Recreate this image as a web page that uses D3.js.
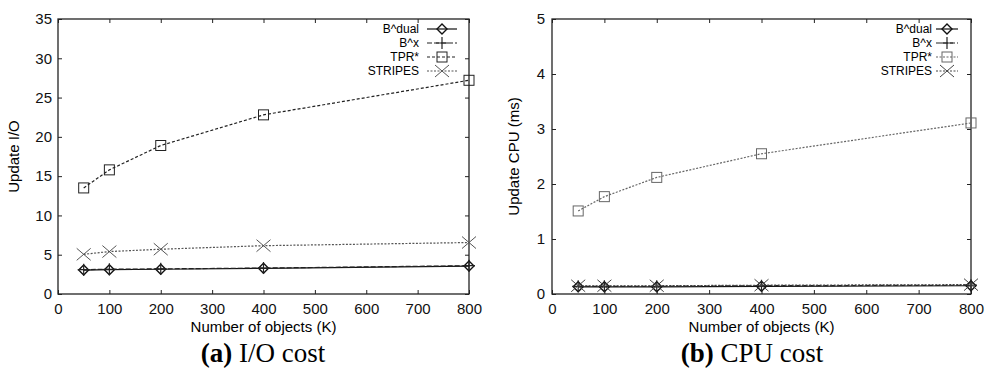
<!DOCTYPE html>
<html>
<head>
<meta charset="utf-8">
<script src="https://cdn.jsdelivr.net/npm/d3@7"></script>
<style>
  body { margin: 0; background: #fff; }
  svg { display: block; }
</style>
</head>
<body>
<svg id="chart" width="985" height="368"></svg>
<script>
// x values (thousands of objects)
const objects = [50, 100, 200, 400, 800];
const xTicks = [0, 100, 200, 300, 400, 500, 600, 700, 800];

// (a) update I/O
const ioDual = [3.05, 3.1, 3.15, 3.27, 3.56];
const ioX = [3.1, 3.15, 3.2, 3.3, 3.6];
const ioTpr = [13.5, 15.8, 18.9, 22.8, 27.2];
const ioStripes = [5.05, 5.4, 5.7, 6.15, 6.55];
const ioTicks = [0, 5, 10, 15, 20, 25, 30, 35];

// (b) update CPU (ms)
const cpuDual = [0.13, 0.13, 0.13, 0.14, 0.15];
const cpuX = [0.14, 0.14, 0.14, 0.15, 0.16];
const cpuTpr = [1.51, 1.77, 2.12, 2.55, 3.11];
const cpuStripes = [0.15, 0.15, 0.15, 0.16, 0.17];
const cpuTicks = [0, 1, 2, 3, 4, 5];

const seriesNames = ["B^dual", "B^x", "TPR*", "STRIPES"];

const svg = d3.select("#chart");

// marker shapes, gnuplot style
function marker(g, type, x, y, color) {
  if (type === "diamond") {
    g.append("path").attr("d", `M${x},${y-5}L${x+5},${y}L${x},${y+5}L${x-5},${y}Z`)
      .attr("fill", "none").attr("stroke", color).attr("stroke-width", 1.4);
  } else if (type === "plus") {
    g.append("path").attr("d", `M${x-6},${y}H${x+6}M${x},${y-6}V${y+6}`)
      .attr("stroke", color).attr("stroke-width", 1.2);
  } else if (type === "square") {
    g.append("rect").attr("x", x - 5).attr("y", y - 5).attr("width", 10).attr("height", 10)
      .attr("fill", "none").attr("stroke", color).attr("stroke-width", 1);
  } else if (type === "cross") {
    g.append("path").attr("d", `M${x-7},${y-6}L${x+7},${y+6}M${x-7},${y+6}L${x+7},${y-6}`)
      .attr("stroke", color).attr("stroke-width", 1);
  }
}

function panel(opts) {
  const { left, right, top, bottom, yMax, yTicks, series, yTitle, yTitleX,
          yLabelX, legendTextX, legendLine, caption, captionX } = opts;

  const x = d3.scaleLinear().domain([0, 800]).range([left, right]);
  const y = d3.scaleLinear().domain([0, yMax]).range([bottom, top]);
  const g = svg.append("g");

  // frame
  g.append("rect").attr("x", left).attr("y", top)
    .attr("width", right - left).attr("height", bottom - top)
    .attr("fill", "none").attr("stroke", "#222").attr("stroke-width", 1.3);

  // bottom axis with inward ticks, mirrored on top
  const xb = g.append("g").attr("transform", `translate(0,${bottom})`)
    .call(d3.axisBottom(x).tickValues(xTicks).tickSizeInner(-4).tickSizeOuter(0).tickPadding(9));
  const xt = g.append("g").attr("transform", `translate(0,${top})`)
    .call(d3.axisTop(x).tickValues(xTicks).tickSizeInner(-4).tickSizeOuter(0).tickFormat(""));
  const yl = g.append("g").attr("transform", `translate(${left},0)`)
    .call(d3.axisLeft(y).tickValues(yTicks).tickFormat(d3.format("d"))
      .tickSizeInner(-4).tickSizeOuter(0).tickPadding(left - yLabelX));
  const yr = g.append("g").attr("transform", `translate(${right},0)`)
    .call(d3.axisRight(y).tickValues(yTicks).tickSizeInner(-4).tickSizeOuter(0).tickFormat(""));
  [xb, xt, yl, yr].forEach(a => {
    a.select(".domain").remove();
    a.selectAll("line").attr("stroke", "#222");
    a.selectAll("text").attr("fill", "#111")
      .style("font-family", "Liberation Sans, Arial, sans-serif").style("font-size", "15px");
  });

  // axis titles
  g.append("text").attr("x", (left + right) / 2).attr("y", bottom + 38)
    .attr("text-anchor", "middle")
    .style("font-family", "Liberation Sans, Arial, sans-serif").style("font-size", "15px")
    .text("Number of objects (K)");
  g.append("text")
    .attr("transform", `translate(${yTitleX},${(top + bottom) / 2}) rotate(-90)`)
    .attr("text-anchor", "middle")
    .style("font-family", "Liberation Sans, Arial, sans-serif").style("font-size", "15px")
    .text(yTitle);

  // lines and markers
  series.forEach((s, si) => {
    const line = d3.line().x((d, i) => x(objects[i])).y(d => y(d));
    g.append("path").datum(s.values).attr("d", line)
      .attr("fill", "none").attr("stroke", s.color).attr("stroke-width", 1.2)
      .attr("stroke-dasharray", s.dash);
    s.values.forEach((v, i) => marker(g, s.marker, x(objects[i]), y(v), s.markColor || s.color));

    // legend entry
    const ly = top + 10 + si * 14;
    g.append("text").attr("x", legendTextX).attr("y", ly).attr("dy", "0.35em")
      .attr("text-anchor", "end")
      .style("font-family", "Liberation Sans, Arial, sans-serif").style("font-size", "12px")
      .text(seriesNames[si]);
    g.append("line").attr("x1", legendLine[0]).attr("x2", legendLine[1])
      .attr("y1", ly).attr("y2", ly)
      .attr("stroke", s.color).attr("stroke-width", 1.2).attr("stroke-dasharray", s.dash);
    marker(g, s.marker, (legendLine[0] + legendLine[1]) / 2, ly, s.markColor || s.color);
  });

  // caption
  const cap = g.append("text").attr("x", captionX).attr("y", 362)
    .attr("text-anchor", "middle")
    .style("font-family", "Liberation Serif, Times New Roman, serif").style("font-size", "27px");
  cap.append("tspan").style("font-weight", "bold").text(caption[0]);
  cap.append("tspan").text(" " + caption[1]);
}

panel({
  left: 58, right: 469, top: 19, bottom: 294, yMax: 35, yTicks: ioTicks,
  yTitle: "Update I/O", yTitleX: 19, yLabelX: 52,
  legendTextX: 419, legendLine: [427, 457],
  caption: ["(a)", "I/O cost"], captionX: 263,
  series: [
    { values: ioDual, marker: "diamond", color: "#111", dash: null },
    { values: ioX, marker: "plus", color: "#222", dash: "5,2" },
    { values: ioTpr, marker: "square", color: "#222", dash: "3,2" },
    { values: ioStripes, marker: "cross", color: "#555", dash: "2,1.5" }
  ]
});

panel({
  left: 552, right: 971, top: 19, bottom: 294, yMax: 5, yTicks: cpuTicks,
  yTitle: "Update CPU (ms)", yTitleX: 519, yLabelX: 545,
  legendTextX: 932, legendLine: [936, 958],
  caption: ["(b)", "CPU cost"], captionX: 752,
  series: [
    { values: cpuDual, marker: "diamond", color: "#111", dash: null },
    { values: cpuX, marker: "plus", color: "#222", dash: "5,2" },
    { values: cpuTpr, marker: "square", color: "#666", dash: "2,1.5" },
    { values: cpuStripes, marker: "cross", color: "#444", dash: "2,1.5" }
  ]
});
</script>
</body>
</html>
